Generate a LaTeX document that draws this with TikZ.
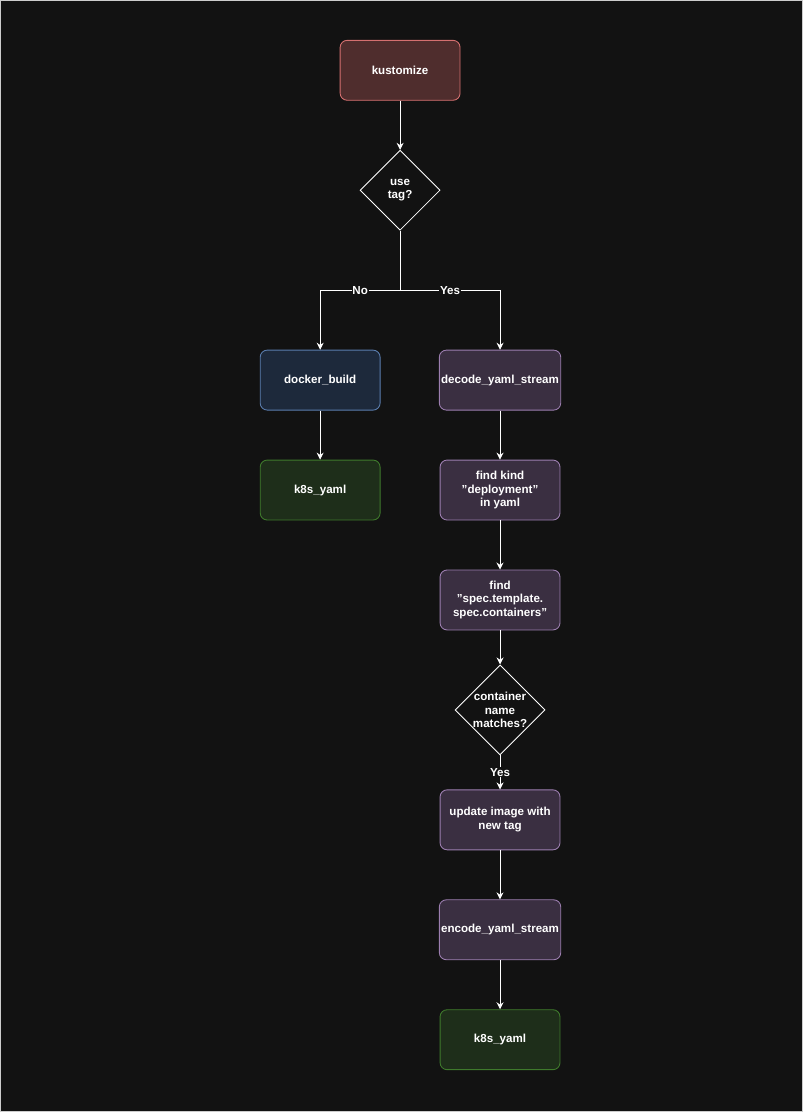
\documentclass[tikz,border=0pt]{standalone}
\usepackage{fontspec}
\setmainfont{Liberation Sans}
\usetikzlibrary{arrows.meta,shapes.geometric}
\definecolor{bgc}{HTML}{121212}
\definecolor{redfill}{HTML}{4F2D2D}
\definecolor{redline}{HTML}{D57070}
\definecolor{bluefill}{HTML}{1D293B}
\definecolor{blueline}{HTML}{5A7DAE}
\definecolor{purfill}{HTML}{3A2F41}
\definecolor{purline}{HTML}{9C7EB0}
\definecolor{grnfill}{HTML}{1E2E1A}
\definecolor{grnline}{HTML}{3F7A2C}
\begin{document}
\begin{tikzpicture}[x=0.02cm, y=-0.02cm, font=\fontsize{6.6}{7.8}\selectfont\bfseries, text=white,
    box/.style={rounded corners=4pt, minimum width=2.4cm, minimum height=1.2cm, align=center, line width=0.5pt, inner sep=1pt},
    proc/.style={box, fill=purfill, draw=purline},
    result/.style={box, fill=grnfill, draw=grnline},
    decision/.style={diamond, draw=white, fill=bgc, minimum width=1.6cm, minimum height=1.6cm, inner sep=0pt, align=center, line width=0.5pt},
    lbl/.style={fill=bgc, inner sep=0.5pt},
    flow/.style={draw=white, line width=0.5pt, -{Stealth[length=4pt,width=4pt]}}]
    \fill[bgc, draw=white!80!black] (0,0) rectangle (802,1112);
    \useasboundingbox (0,0) rectangle (802,1112);

    \node[box, fill=redfill, draw=redline] (kust) at (400,70) {kustomize};
    \node[decision] (usetag) at (400,190) {use\\tag?};
    \coordinate (split) at (400,290);
    \node[box, fill=bluefill, draw=blueline] (docker) at (320,380) {docker\_build};
    \node[result] (yamlA) at (320,490) {k8s\_yaml};
    \node[proc] (decode) at (500,380) {decode\_yaml\_stream};
    \node[proc] (kind) at (500,490) {find kind\\"deployment"\\in yaml};
    \node[proc] (spec) at (500,600) {find\\"spec.template.\\spec.containers"};
    \node[decision] (match) at (500,710) {container\\name\\matches?};
    \node[proc] (update) at (500,820) {update image with\\new tag};
    \node[proc] (encode) at (500,930) {encode\_yaml\_stream};
    \node[result] (yamlB) at (500,1040) {k8s\_yaml};

    \draw[flow] (kust) -- (usetag);
    \draw[draw=white, line width=0.5pt] (usetag) -- (split);
    \draw[flow] (split) -| node[lbl, pos=0.25] {No} (docker);
    \draw[flow] (split) -| node[lbl, pos=0.25] {Yes} (decode);
    \draw[flow] (docker) -- (yamlA);
    \draw[flow] (decode) -- (kind);
    \draw[flow] (kind) -- (spec);
    \draw[flow] (spec) -- (match);
    \draw[flow] (match) -- node[lbl, pos=0.5] {Yes} (update);
    \draw[flow] (update) -- (encode);
    \draw[flow] (encode) -- (yamlB);
\end{tikzpicture}
\end{document}
